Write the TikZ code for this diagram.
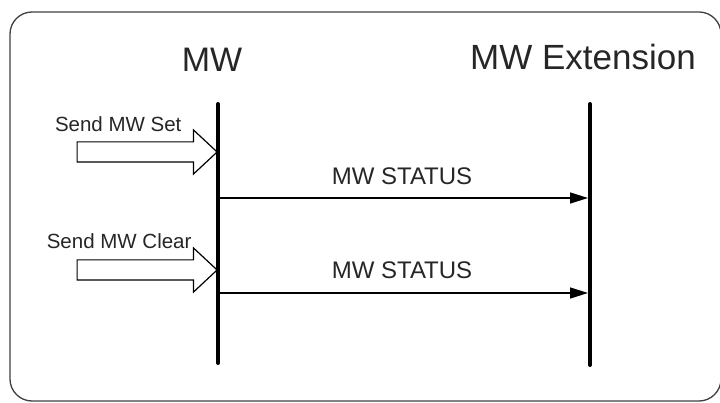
\documentclass[tikz,border=0pt]{standalone}
\usepackage{fontspec}
\setmainfont{Liberation Sans}
\usetikzlibrary{arrows.meta,shapes.arrows}

\begin{document}
\begin{tikzpicture}[x=1pt,y=-1pt,
  lifeline/.style={line width=4pt,line cap=round},
  msg/.style={line width=1.4pt,-{Triangle[length=18pt,width=11pt]}},
  blockarrow/.style={single arrow,draw,line width=1.2pt,inner sep=0pt,text width=0pt,
    text height=9.5pt,text depth=9.5pt,minimum height=140pt,single arrow head extend=12pt,
    single arrow tip angle=86,anchor=tip}]
\useasboundingbox(0,0)rectangle(720,403);
\draw[line width=1.3pt,black!75,rounded corners=22pt](10,12)rectangle(721,401);
% participants
\node[font=\fontsize{34}{40}\selectfont,text=black!85](mw)at(212,60){MW};
\node[font=\fontsize{35}{40}\selectfont,text=black!85](ext)at(583,57){MW Extension};
\coordinate(mwTop)at(218,104);
\coordinate(mwBot)at(218,363);
\coordinate(extTop)at(590,104);
\coordinate(extBot)at(590,365);
\draw[lifeline](mwTop)--(mwBot);
\draw[lifeline](extTop)--(extBot);
% incoming requests
\node[blockarrow](setArrow)at(mwTop|-0,152){};
\node[blockarrow](clearArrow)at(mwTop|-0,270){};
\node[font=\fontsize{20.5}{24}\selectfont,text=black!85,anchor=east](setLbl)at(185,124){Send MW Set};
\node[font=\fontsize{20.5}{24}\selectfont,text=black!85,anchor=east](clearLbl)at(195,241){Send MW Clear};
% status messages
\coordinate(s1a)at(219,198);
\coordinate(s1b)at(588,198);
\coordinate(s2a)at(219,293);
\coordinate(s2b)at(588,293);
\draw[msg](s1a)--(s1b);
\draw[msg](s2a)--(s2b);
\node[font=\fontsize{24}{28}\selectfont,text=black!85](st1)at(402,176){MW STATUS};
\node[font=\fontsize{24}{28}\selectfont,text=black!85](st2)at(402,270){MW STATUS};
\end{tikzpicture}
\end{document}
